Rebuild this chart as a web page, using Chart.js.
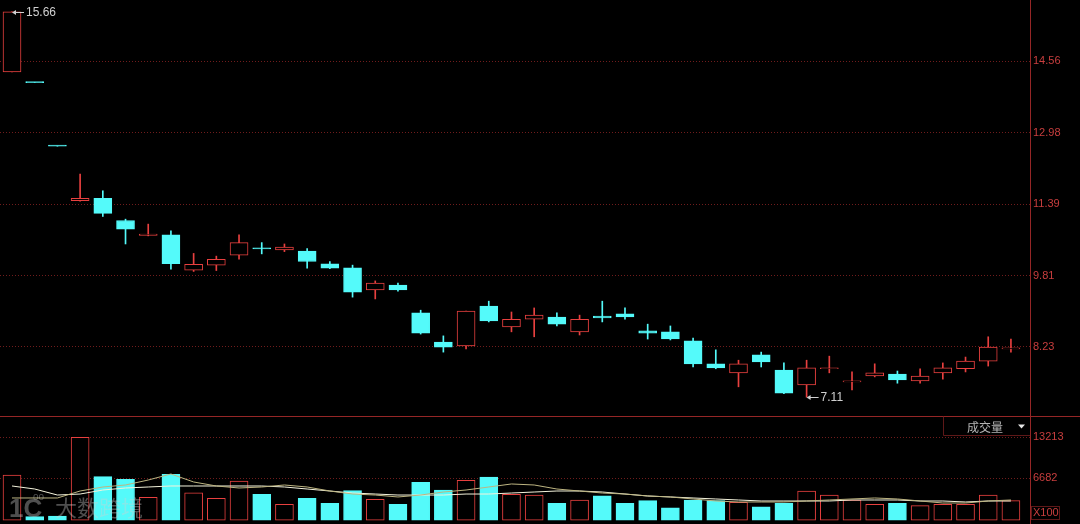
<!DOCTYPE html>
<html><head><meta charset="utf-8">
<script src="https://cdn.jsdelivr.net/npm/chart.js@4/dist/chart.umd.min.js"></script>
<style>html,body{margin:0;padding:0;background:#000;overflow:hidden}canvas{display:block}</style>
</head><body>
<canvas id="c" width="1080" height="524"></canvas>
<script>
// ---- data ----
const opens  = [14.33,14.09,12.68,11.47,11.52,11.03,10.70,10.71,9.93,10.04,10.26,10.41,10.38,10.35,10.07,9.98,9.49,9.60,8.98,8.33,8.25,9.13,8.67,8.84,8.89,8.56,8.91,8.96,8.58,8.56,8.36,7.85,7.65,8.05,7.71,7.38,7.74,7.45,7.58,7.62,7.47,7.65,7.74,7.91,8.18];
const highs  = [15.66,14.09,12.68,12.06,11.69,11.06,10.95,10.80,10.30,10.24,10.71,10.54,10.51,10.41,10.12,10.04,9.69,9.64,9.04,8.47,9.02,9.24,9.00,9.09,8.98,8.93,9.24,9.09,8.73,8.69,8.42,8.16,7.93,8.11,7.87,7.93,8.02,7.67,7.85,7.69,7.74,7.87,8.00,8.45,8.40];
const lows   = [14.33,14.09,12.68,11.46,11.12,10.51,10.69,9.95,9.90,9.92,10.17,10.29,10.34,9.97,9.96,9.33,9.29,9.46,8.51,8.11,8.18,8.78,8.56,8.45,8.69,8.49,8.78,8.84,8.40,8.38,7.78,7.74,7.34,7.78,7.19,7.11,7.65,7.27,7.56,7.42,7.42,7.51,7.67,7.80,8.11];
const closes = [15.66,14.09,12.68,11.52,11.19,10.84,10.73,10.07,10.06,10.17,10.54,10.40,10.44,10.12,9.97,9.44,9.64,9.49,8.53,8.22,9.02,8.80,8.84,8.93,8.73,8.84,8.87,8.89,8.53,8.40,7.85,7.76,7.85,7.89,7.20,7.76,7.76,7.47,7.65,7.49,7.58,7.76,7.91,8.22,8.20];
const volumes = [7200,560,670,13213,6930,6520,3650,7310,4380,3490,6240,4130,2530,3490,2690,4700,3330,2530,6040,4810,6360,6880,4130,4010,2690,3220,3900,2690,3110,1990,3220,3110,2850,2150,2690,4650,4010,3220,2530,2690,2310,2530,2530,4010,3110];
const volMA5  = [3540,3540,3540,4650,5290,5610,6400,7360,6090,5450,5130,5290,5610,5290,4650,4170,4010,3700,4010,4490,4810,5290,5770,5610,4970,4650,4330,4170,3860,3700,3380,3060,2900,2900,2900,3060,3220,3380,3540,3380,3060,2740,2740,3060,3220];
const volMA10 = [5450,4970,4010,4170,4810,5130,5290,5450,5450,5450,5450,5450,5290,4970,4650,4330,4170,4010,4010,4010,4170,4170,4330,4490,4650,4650,4490,4170,3860,3700,3540,3380,3220,3060,3060,3060,3060,3220,3220,3220,3060,3060,2900,3060,3060];
const priceTicks = [14.56, 12.98, 11.39, 9.81, 8.23];
const volumeTicks = [13213, 6682];
const volumeTitle = '成交量';
const volumeUnit = 'X100';
const watermarkText = '大数跨境';

// ---- styles ----
const RED = '#e8403f', CYAN = '#54fafa', BG = '#000000';
const GRID = '#701c1c', AXIS = '#952626', LABEL = '#c83e3e';
const idx = opens.map((_, i) => i);
const up = i => closes[i] > opens[i];

const decor = {
  id: 'decor',
  afterDraw(chart) {
    const ctx = chart.ctx, ca = chart.chartArea;
    const xs = chart.scales.x, ys = chart.scales.y, yv = chart.scales.yv;
    ctx.save();
    // panel separator
    ctx.strokeStyle = AXIS; ctx.lineWidth = 1;
    ctx.beginPath(); ctx.moveTo(0, Math.round(yv.top) + 0.5); ctx.lineTo(chart.width, Math.round(yv.top) + 0.5); ctx.stroke();
    // volume title box
    const bx = 943.5, by = Math.round(yv.top) + 0.5, bh = 19;
    ctx.strokeStyle = '#5e1818';
    ctx.beginPath(); ctx.moveTo(bx, by); ctx.lineTo(bx, by + bh); ctx.lineTo(ca.right, by + bh); ctx.stroke();
    ctx.fillStyle = '#b4b4b4'; ctx.font = '12px "Noto Sans CJK SC"';
    ctx.textAlign = 'center'; ctx.textBaseline = 'middle';
    ctx.fillText(volumeTitle, 985, by + 11);
    ctx.fillStyle = '#e6e6e6';
    ctx.beginPath(); ctx.moveTo(1018, by + 8); ctx.lineTo(1025, by + 8); ctx.lineTo(1021.5, by + 12); ctx.closePath(); ctx.fill();
    // unit label
    ctx.strokeStyle = '#5e1818';
    ctx.strokeRect(1031.5, 506.5, 28, 13);
    ctx.fillStyle = LABEL; ctx.font = '11px "Liberation Sans"'; ctx.textAlign = 'left';
    ctx.fillText(volumeUnit, 1033, 513);
    // max / min markers
    let iMax = 0, iMin = 0;
    highs.forEach((v, i) => { if (v > highs[iMax]) iMax = i; });
    lows.forEach((v, i) => { if (v < lows[iMin]) iMin = i; });
    const mark = (i, val) => {
      const px = xs.getPixelForValue(i), py = Math.round(ys.getPixelForValue(val)) + 0.5;
      ctx.strokeStyle = '#d0d0d0'; ctx.fillStyle = '#d0d0d0';
      ctx.beginPath(); ctx.moveTo(px + 2, py); ctx.lineTo(px + 12, py); ctx.stroke();
      ctx.beginPath(); ctx.moveTo(px, py); ctx.lineTo(px + 4, py - 2.5); ctx.lineTo(px + 4, py + 2.5); ctx.closePath(); ctx.fill();
      ctx.font = '12px "Liberation Sans"'; ctx.textAlign = 'left'; ctx.textBaseline = 'middle';
      ctx.fillText(val.toFixed(2), px + 14, py);
    };
    mark(iMax, highs[iMax]);
    mark(iMin, lows[iMin]);
    // watermark
    ctx.globalAlpha = 0.38; ctx.fillStyle = '#d0d0d0';
    ctx.font = 'bold 26px "Liberation Sans"'; ctx.textBaseline = 'alphabetic';
    ctx.fillText('1C', 9, 517);
    ctx.font = '10px "Liberation Sans"'; ctx.fillText('oo', 33, 500);
    ctx.font = '22px "Noto Sans CJK SC"'; ctx.fillText(watermarkText, 55, 516);
    ctx.restore();
  }
};

new Chart(document.getElementById('c'), {
  data: {
    datasets: [
      { type: 'line', yAxisID: 'yv', order: -1, data: idx.map(i => ({x: i, y: volMA5[i]})),
        borderColor: '#bdb582', borderWidth: 1, pointRadius: 0, tension: 0 },
      { type: 'line', yAxisID: 'yv', order: -1, data: idx.map(i => ({x: i, y: volMA10[i]})),
        borderColor: '#f4f3dc', borderWidth: 1, pointRadius: 0, tension: 0 },
      { type: 'bar', yAxisID: 'y', order: 0, grouped: false, barPercentage: 1, categoryPercentage: 1, maxBarThickness: 18,
        minBarLength: 1, borderSkipped: false, borderWidth: 1,
        data: idx.map(i => ({x: i, y: [Math.min(opens[i], closes[i]), Math.max(opens[i], closes[i])]})),
        backgroundColor: idx.map(i => up(i) ? BG : CYAN), borderColor: idx.map(i => up(i) ? RED : CYAN) },
      { type: 'bar', yAxisID: 'y', order: 1, grouped: false, barPercentage: 1, categoryPercentage: 1, maxBarThickness: 1,
        borderWidth: 0, data: idx.map(i => ({x: i, y: [lows[i], highs[i]]})),
        backgroundColor: idx.map(i => up(i) ? RED : CYAN) },
      { type: 'bar', yAxisID: 'yv', order: 0, grouped: false, barPercentage: 1, categoryPercentage: 1, maxBarThickness: 18,
        borderSkipped: false, borderWidth: 1, data: idx.map(i => ({x: i, y: volumes[i]})),
        backgroundColor: idx.map(i => up(i) ? BG : CYAN), borderColor: idx.map(i => up(i) ? RED : CYAN) }
    ]
  },
  options: {
    responsive: false, animation: false, devicePixelRatio: 1,
    layout: { padding: 0 },
    plugins: { legend: { display: false }, tooltip: { enabled: false } },
    scales: {
      x: { type: 'linear', min: -0.529, max: 44.84, display: false, offset: false, bounds: 'data',
        afterBuildTicks: s => { s.ticks = idx.map(i => ({ value: i })); } },
      y: { position: 'right', stack: 'panes', stackWeight: 416, min: 6.692, max: 15.924,
        afterBuildTicks: s => { s.ticks = priceTicks.map(v => ({ value: v })); },
        afterFit: s => { s.width = 50; s.paddingTop = 0; s.paddingBottom = 0; },
        ticks: { color: LABEL, font: { family: 'Liberation Sans', size: 11 }, padding: 3, autoSkip: false,
          callback: v => Number(v).toFixed(2) },
        grid: { color: GRID, drawTicks: false, lineWidth: 1 },
        border: { color: AXIS, width: 1, dash: [1, 2] } },
      yv: { position: 'right', stack: 'panes', stackWeight: 108, min: -605, max: 16599,
        afterBuildTicks: s => { s.ticks = volumeTicks.map(v => ({ value: v })); },
        afterFit: s => { s.width = 50; s.paddingTop = 0; s.paddingBottom = 0; },
        ticks: { color: LABEL, font: { family: 'Liberation Sans', size: 11 }, padding: 3, autoSkip: false,
          callback: v => String(v) },
        grid: { color: GRID, drawTicks: false, lineWidth: 1 },
        border: { color: AXIS, width: 1, dash: [1, 2] } }
    }
  },
  plugins: [decor]
});
</script>
</body></html>
